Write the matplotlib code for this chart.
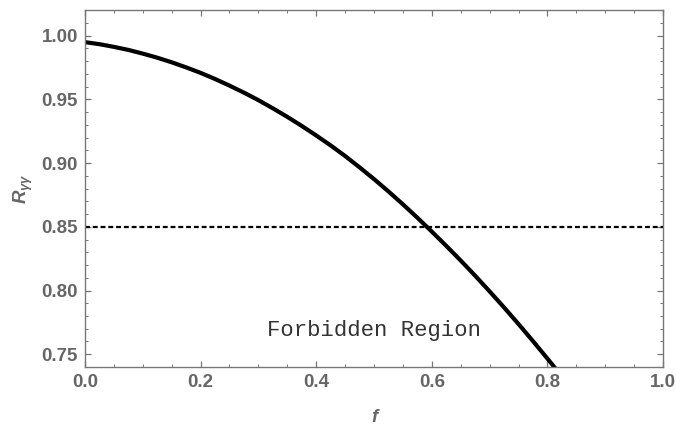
import matplotlib
matplotlib.use("Agg")
import matplotlib.pyplot as plt
from matplotlib.ticker import MultipleLocator

f_vals = [0.000, 0.025, 0.050, 0.075, 0.100, 0.125, 0.150, 0.175, 0.200,
          0.225, 0.250, 0.275, 0.300, 0.325, 0.350, 0.375, 0.400, 0.425,
          0.450, 0.475, 0.500, 0.525, 0.550, 0.575, 0.600, 0.625, 0.650,
          0.675, 0.700, 0.725, 0.750, 0.775, 0.800, 0.814]
R_vals = [0.9948, 0.9932, 0.9911, 0.9887, 0.9858, 0.9826, 0.9790, 0.9750,
          0.9707, 0.9659, 0.9607, 0.9552, 0.9493, 0.9429, 0.9362, 0.9291,
          0.9216, 0.9138, 0.9055, 0.8966, 0.8874, 0.8777, 0.8676, 0.8571,
          0.8462, 0.8350, 0.8235, 0.8116, 0.7993, 0.7867, 0.7737, 0.7603,
          0.7466, 0.7388]
bound = 0.85
xticks = [0.0, 0.2, 0.4, 0.6, 0.8, 1.0]
yticks = [0.75, 0.80, 0.85, 0.90, 0.95, 1.00]

plt.rcParams['font.family'] = ['Liberation Sans', 'DejaVu Sans']
plt.rcParams['mathtext.fontset'] = 'custom'
plt.rcParams['mathtext.it'] = 'Liberation Sans:italic:bold'
plt.rcParams['mathtext.rm'] = 'Liberation Sans:bold'

fig = plt.figure(figsize=(6.76, 4.26), dpi=100)
ax = fig.add_axes([0.1257, 0.1385, 0.9808 - 0.1257, 0.9765 - 0.1385])

ax.plot(f_vals, R_vals, color='black', lw=3.0, solid_capstyle='butt',
        solid_joinstyle='round')
ax.axhline(bound, color='black', lw=1.6, linestyle=(0, (2.2, 1.3)))

ax.text(0.5, 0.7641, 'Forbidden Region', family=['Liberation Mono', 'DejaVu Sans Mono'],
        fontsize=16, ha='center', va='baseline', color='#333333')

ax.set_xlim(0, 1.0)
ax.set_ylim(0.74, 1.02)
ax.set_xticks(xticks)
ax.set_yticks(yticks)
ax.set_xticklabels([f"{v:.1f}" for v in xticks])
ax.set_yticklabels([f"{v:.2f}" for v in yticks])
ax.xaxis.set_minor_locator(MultipleLocator(0.05))
ax.yaxis.set_minor_locator(MultipleLocator(0.01))

gray = '#777777'
for s in ax.spines.values():
    s.set_color(gray)
    s.set_linewidth(1.0)
ax.tick_params(which='both', direction='in', top=True, right=True, color=gray)
ax.tick_params(which='major', length=4.5, width=0.9, labelsize=13.5,
               labelcolor='#666666', pad=5)
ax.tick_params(which='minor', length=2.5, width=0.7)
for lab in ax.get_xticklabels() + ax.get_yticklabels():
    lab.set_fontweight('bold')

ax.set_xlabel('f', fontsize=13.5, color='#666666', fontstyle='italic',
              fontweight='bold', labelpad=13)
ax.set_ylabel(r'$R_{\gamma\gamma}$', fontsize=13.5, color='#666666', labelpad=5)

fig.savefig('out.png', dpi=100)
